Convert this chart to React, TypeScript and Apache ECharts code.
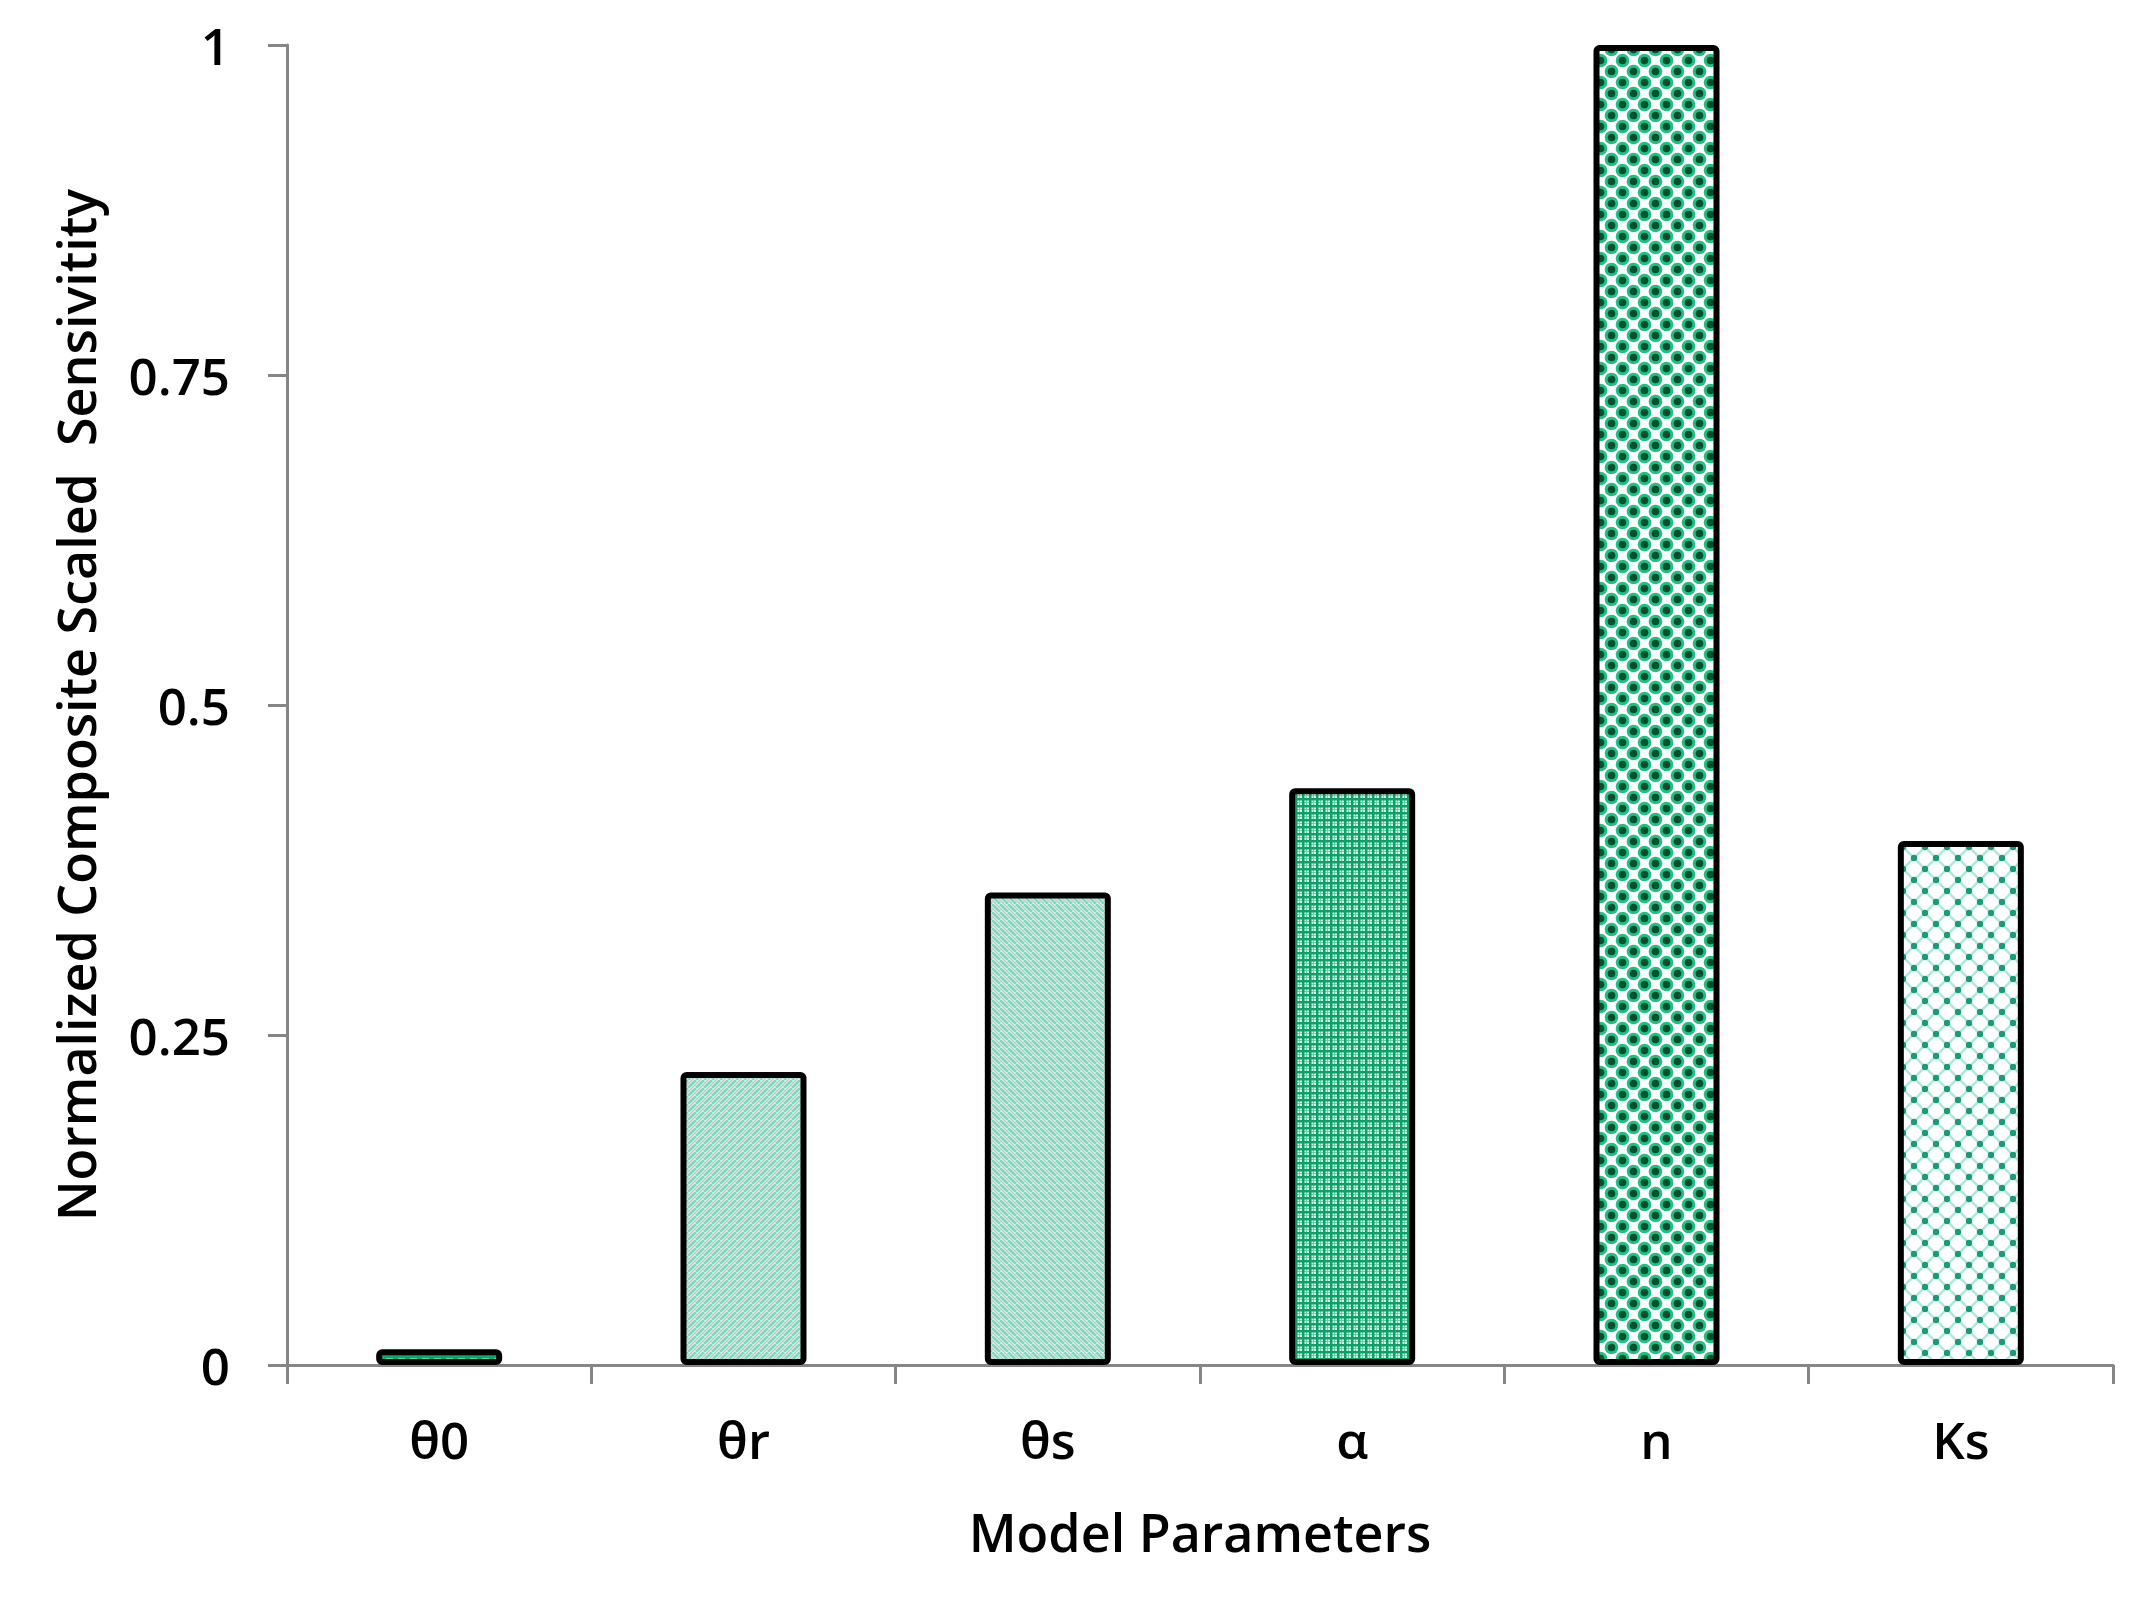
import React, { useEffect, useRef } from "react";
import * as echarts from "echarts";

const categories = ["θ0", "θr", "θs", "α", "n", "Ks"];
const values = [0.012, 0.222, 0.358, 0.437, 1.0, 0.397];
const yMin = 0;
const yMax = 1;
const yInterval = 0.25;
const xTitle = "Model Parameters";
const yTitle = "Normalized Composite Scaled  Sensivitity";

const FONT = "'Open Sans', 'Noto Sans', 'DejaVu Sans', sans-serif";

function tile(w: number, h: number, draw: (ctx: CanvasRenderingContext2D) => void) {
  const c = document.createElement("canvas");
  c.width = w;
  c.height = h;
  const ctx = c.getContext("2d") as CanvasRenderingContext2D;
  draw(ctx);
  return { type: "pattern", image: c.toDataURL(), repeat: "repeat", imageWidth: w, imageHeight: h };
}

function makePatterns() {
  const p0 = tile(12, 6, (ctx) => {
    ctx.fillStyle = "#10a46e";
    ctx.fillRect(0, 0, 12, 6);
    ctx.fillStyle = "#40e2a8";
    ctx.fillRect(2, 2, 7, 2);
  });
  const diag = (forward: boolean) =>
    tile(8, 8, (ctx) => {
      ctx.fillStyle = "#eef8f4";
      ctx.fillRect(0, 0, 8, 8);
      const line = (off: number, color: string, lw: number) => {
        ctx.strokeStyle = color;
        ctx.lineWidth = lw;
        ctx.beginPath();
        if (forward) {
          ctx.moveTo(off, 8);
          ctx.lineTo(off + 8, 0);
        } else {
          ctx.moveTo(off, 0);
          ctx.lineTo(off + 8, 8);
        }
        ctx.stroke();
      };
      for (const o of [-8, 0, 8]) {
        line(o, "#7ed9be", 2.8);
        line(o + 4, "#b5c7c1", 1.5);
      }
    });
  const pR = diag(true);
  const pS = diag(false);
  const pA = tile(7, 7, (ctx) => {
    ctx.fillStyle = "#d8f8ec";
    ctx.fillRect(0, 0, 7, 7);
    ctx.fillStyle = "#62d2aa";
    ctx.fillRect(4, 0, 1, 7);
    ctx.fillRect(0, 4, 7, 1);
    ctx.fillStyle = "#0e9f6b";
    ctx.fillRect(0, 0, 2.5, 7);
    ctx.fillRect(0, 0, 7, 2.5);
  });
  const pN = tile(22, 22, (ctx) => {
    ctx.fillStyle = "#ffffff";
    ctx.fillRect(0, 0, 22, 22);
    const centers = [
      [5.5, 5.5],
      [16.5, 16.5],
    ];
    for (const [cx, cy] of centers) {
      for (const dx of [-22, 0, 22]) {
        for (const dy of [-22, 0, 22]) {
          ctx.fillStyle = "#20bf85";
          ctx.beginPath();
          ctx.arc(cx + dx, cy + dy, 6.8, 0, Math.PI * 2);
          ctx.fill();
          ctx.fillStyle = "#00502c";
          ctx.beginPath();
          ctx.arc(cx + dx, cy + dy, 3.8, 0, Math.PI * 2);
          ctx.fill();
        }
      }
    }
  });
  const pK = tile(22, 22, (ctx) => {
    ctx.fillStyle = "#ffffff";
    ctx.fillRect(0, 0, 22, 22);
    ctx.strokeStyle = "#b0e8d7";
    ctx.lineWidth = 2.6;
    ctx.beginPath();
    ctx.moveTo(0, 0);
    ctx.lineTo(22, 22);
    ctx.moveTo(0, 22);
    ctx.lineTo(22, 0);
    ctx.stroke();
    ctx.fillStyle = "#1a9a78";
    for (const [cx, cy] of [
      [0, 0],
      [22, 0],
      [0, 22],
      [22, 22],
      [11, 11],
    ]) {
      ctx.beginPath();
      ctx.arc(cx, cy, 3.2, 0, Math.PI * 2);
      ctx.fill();
    }
  });
  return [p0, pR, pS, pA, pN, pK];
}

export default function App() {
  const ref = useRef<HTMLDivElement>(null);
  useEffect(() => {
    if (!ref.current) return;
    const chart = echarts.init(ref.current, null, { renderer: "svg" });
    const patterns = makePatterns();
    const axisColor = "#868686";
    chart.setOption({
      animation: false,
      backgroundColor: "#ffffff",
      grid: { left: 287, right: 42, top: 45, bottom: 245, containLabel: false },
      xAxis: {
        type: "category",
        data: categories,
        axisLine: { show: true, lineStyle: { color: axisColor, width: 3 } },
        axisTick: { show: true, length: 19, lineStyle: { color: axisColor, width: 3 } },
        axisLabel: { fontSize: 51, fontWeight: 600, color: "#000", fontFamily: FONT, margin: 48 },
        name: xTitle,
        nameLocation: "middle",
        nameGap: 140,
        nameTextStyle: { fontSize: 52, fontWeight: 600, color: "#000", fontFamily: FONT },
      },
      yAxis: {
        type: "value",
        min: yMin,
        max: yMax,
        interval: yInterval,
        splitLine: { show: false },
        axisLine: { show: true, lineStyle: { color: axisColor, width: 3 } },
        axisTick: { show: true, length: 19, lineStyle: { color: axisColor, width: 3 } },
        axisLabel: { fontSize: 51, fontWeight: 600, color: "#000", fontFamily: FONT, margin: 57 },
        name: yTitle,
        nameLocation: "middle",
        nameRotate: 90,
        nameGap: 186,
        nameTextStyle: { fontSize: 52, fontWeight: 600, color: "#000", fontFamily: FONT },
      },
      series: [
        {
          type: "bar",
          barWidth: 126,
          data: values.map((v, i) => ({
            value: v,
            itemStyle: {
              color: patterns[i],
              borderColor: "#000",
              borderWidth: 6,
              borderRadius: 3,
            },
          })),
        },
      ],
    });
    return () => chart.dispose();
  }, []);
  return <div ref={ref} style={{ position: "absolute", left: 0, top: 0, width: 2155, height: 1610 }} />;
}
